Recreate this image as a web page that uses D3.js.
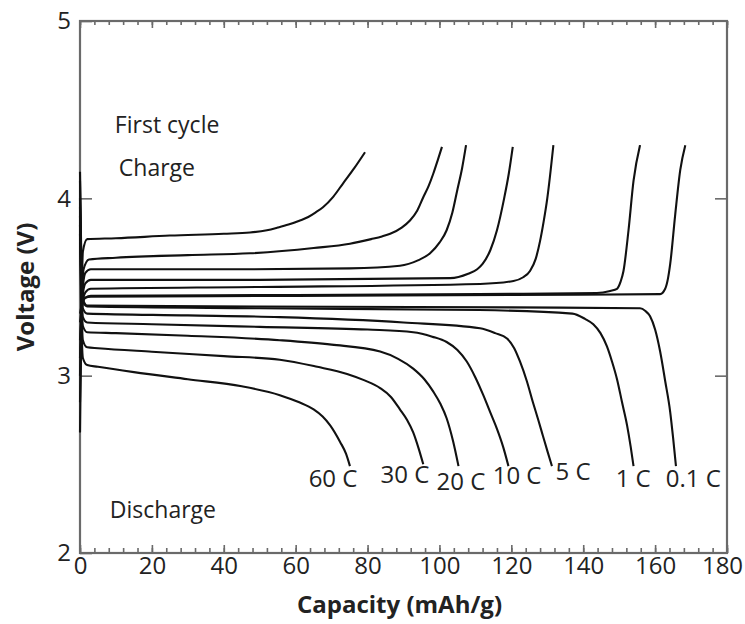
<!DOCTYPE html>
<html>
<head>
<meta charset="utf-8">
<script src="https://cdn.jsdelivr.net/npm/d3@7"></script>
<style>
  html, body { margin: 0; padding: 0; background: #fff; }
  svg text { font-family: "Open Sans", "Noto Sans", sans-serif; fill: #222; }
</style>
</head>
<body>
<svg id="chart" width="745" height="624"></svg>
<script>
// ---------- DATA ----------
const xTicksMajor = [0, 20, 40, 60, 80, 100, 120, 140, 160, 180];
const yTicksMajor = [2, 3, 4, 5];
const rates = ["60 C", "30 C", "20 C", "10 C", "5 C", "1 C", "0.1 C"];

// charge curves [capacity mAh/g, voltage V]
const charge60 = [[0,2.68],[0.3,3.2],[0.8,3.7],[2,3.77],[10,3.775],[25,3.79],[40,3.80],[47.3,3.807],[52,3.82],[55,3.835],[58,3.852],[61.2,3.875],[63.5,3.895],[65.5,3.92],[67.6,3.95],[70.5,4.01],[73.2,4.085],[76.3,4.17],[79.3,4.26]];
const charge30 = [[0,2.85],[0.4,3.3],[1,3.6],[2.5,3.655],[10,3.665],[30,3.68],[47.3,3.69],[65,3.72],[75.1,3.744],[81,3.77],[84,3.785],[86.3,3.80],[89.5,3.835],[91.8,3.875],[93.8,3.93],[95.5,4.006],[97,4.07],[98.3,4.14],[99.6,4.22],[100.7,4.29]];
const charge20 = [[0,3.0],[0.5,3.42],[1.5,3.58],[3,3.60],[47.3,3.60],[75,3.605],[89,3.62],[94,3.65],[97.4,3.69],[100,3.75],[102,3.82],[103.6,3.92],[105,4.05],[106.3,4.17],[107.4,4.30]];
const charge10 = [[0,3.1],[0.5,3.4],[1.5,3.52],[3,3.54],[50,3.54],[103,3.55],[108,3.575],[110.5,3.60],[112,3.63],[114.2,3.71],[116,3.82],[118,4.0],[119.3,4.14],[120.4,4.29]];
const charge5 = [[0,3.2],[0.5,3.38],[1.5,3.47],[3,3.49],[50,3.50],[111.3,3.517],[120.6,3.534],[123.3,3.555],[125.2,3.59],[126.8,3.66],[128,3.76],[129,3.87],[130,4.0],[131.7,4.30]];
const charge1 = [[0,3.30],[0.5,3.38],[1.5,3.44],[3,3.45],[60,3.455],[111,3.46],[143.8,3.466],[147.5,3.478],[149.4,3.49],[150.4,3.53],[151.2,3.59],[152.6,3.82],[154,4.1],[155.8,4.30]];
const charge01 = [[0,3.35],[0.5,3.40],[1.5,3.44],[3,3.445],[60,3.45],[120,3.455],[161.4,3.46],[162.8,3.49],[163.6,3.55],[164.2,3.63],[165.6,3.91],[167,4.16],[168.4,4.30]];

// discharge curves [capacity mAh/g, voltage V]
const discharge60 = [[0,3.80],[0.3,3.4],[0.8,3.1],[2,3.06],[5,3.05],[15,3.02],[30,2.98],[45,2.94],[55.6,2.89],[61,2.85],[65,2.81],[67.5,2.77],[69.6,2.72],[72.4,2.625],[74,2.56],[75.1,2.49]];
const discharge30 = [[0,3.85],[0.3,3.5],[0.8,3.2],[2,3.16],[5,3.155],[20,3.135],[40,3.11],[55.6,3.09],[66,3.05],[74.3,3.01],[79,2.975],[83.5,2.93],[86.5,2.88],[89,2.81],[91,2.75],[92.7,2.68],[94.2,2.59],[95.5,2.50]];
const discharge20 = [[0,3.9],[0.3,3.55],[0.8,3.28],[2,3.245],[10,3.24],[30,3.225],[55.6,3.20],[70,3.175],[83.5,3.136],[88.5,3.095],[92.7,3.04],[95.8,2.98],[98.3,2.91],[100.3,2.84],[102,2.76],[103.8,2.63],[105.3,2.49]];
const discharge10 = [[0,3.95],[0.3,3.6],[0.8,3.33],[2,3.30],[20,3.29],[50,3.275],[80,3.26],[92.7,3.245],[98,3.22],[102,3.19],[105,3.145],[107.6,3.08],[110,2.99],[112.2,2.89],[114.2,2.79],[116,2.70],[117.7,2.60],[119.2,2.49]];
const discharge5 = [[0,4.0],[0.3,3.65],[0.8,3.38],[2,3.35],[30,3.34],[55.6,3.33],[90,3.30],[111.3,3.267],[115.5,3.24],[118.8,3.21],[120.8,3.155],[122.4,3.08],[124.3,2.97],[126,2.85],[127.5,2.75],[128.8,2.66],[130.1,2.57],[131.3,2.49]];
const discharge1 = [[0,4.1],[0.3,3.7],[0.8,3.42],[2,3.39],[50,3.38],[111,3.37],[137,3.35],[140.5,3.32],[142.8,3.29],[144.8,3.24],[146.6,3.165],[148,3.08],[149.4,2.98],[150.8,2.85],[152.2,2.72],[153.2,2.60],[154,2.49]];
const discharge01 = [[0,4.15],[0.3,3.75],[0.8,3.43],[2,3.395],[50,3.39],[120,3.385],[155.8,3.38],[157.3,3.365],[158.6,3.335],[160,3.26],[161.4,3.136],[162.8,2.97],[164.2,2.795],[165,2.65],[165.8,2.49]];

// rate label anchor positions (capacity, voltage of baseline)
const rateLabelCap = [70.4, 90.4, 106, 121.6, 137.2, 153.9, 170.6];
const rateLabelV = [2.372, 2.394, 2.355, 2.388, 2.411, 2.372, 2.372];

// ---------- LAYOUT ----------
const svg = d3.select("#chart");
const mLeft = 80, mRight = 727, mTop = 21, mBottom = 553;
const x = d3.scaleLinear().domain([0, 180]).range([mLeft, mRight]);
const y = d3.scaleLinear().domain([2, 5]).range([mBottom, mTop]);
const axisColor = "#6a6a6a";

const minorX = d3.range(0, 181, 4);

function styleAxis(g) {
  g.select(".domain").remove();
  g.selectAll(".tick line").attr("stroke", axisColor).attr("stroke-width", 1.6);
  g.selectAll(".tick text").attr("font-size", 24).attr("fill", "#222")
    .style("font-family", "'Open Sans', sans-serif");
}

// bottom axis: minor ticks & major ticks (inward)
svg.append("g").attr("transform", `translate(0,${mBottom})`)
  .call(d3.axisBottom(x).tickValues(minorX).tickSize(-5).tickFormat(""))
  .call(styleAxis);
const bottomMajor = svg.append("g").attr("transform", `translate(0,${mBottom})`)
  .call(d3.axisBottom(x).tickValues(xTicksMajor).tickSize(-8).tickPadding(4).tickFormat(d3.format("d")))
  .call(styleAxis);
// keep the last label inside the picture
bottomMajor.selectAll(".tick text").filter(d => d === 180).attr("dx", -5);

// top axis
svg.append("g").attr("transform", `translate(0,${mTop})`)
  .call(d3.axisTop(x).tickValues(minorX).tickSize(-4).tickFormat(""))
  .call(styleAxis);
svg.append("g").attr("transform", `translate(0,${mTop})`)
  .call(d3.axisTop(x).tickValues(xTicksMajor).tickSize(-7).tickFormat(""))
  .call(styleAxis);

// left axis
svg.append("g").attr("transform", `translate(${mLeft},0)`)
  .call(d3.axisLeft(y).tickValues(yTicksMajor).tickSize(-12).tickPadding(9).tickFormat(d3.format("d")))
  .call(styleAxis);

// right axis
svg.append("g").attr("transform", `translate(${mRight},0)`)
  .call(d3.axisRight(y).tickValues([3, 4]).tickSize(-12).tickFormat(""))
  .call(styleAxis);

// frame
svg.append("rect")
  .attr("x", mLeft).attr("y", mTop)
  .attr("width", mRight - mLeft).attr("height", mBottom - mTop)
  .attr("fill", "none").attr("stroke", axisColor).attr("stroke-width", 2.2);

// curves
const line = d3.line().x(d => x(d[0])).y(d => y(d[1])).curve(d3.curveMonotoneX);
const allCurves = [charge60, charge30, charge20, charge10, charge5, charge1, charge01,
                   discharge60, discharge30, discharge20, discharge10, discharge5, discharge1, discharge01];
svg.append("g").selectAll("path").data(allCurves).join("path")
  .attr("d", line)
  .attr("fill", "none")
  .attr("stroke", "#111")
  .attr("stroke-width", 2.1)
  .attr("stroke-linejoin", "round");

// rate labels
svg.append("g").selectAll("text").data(rates).join("text")
  .attr("x", (d, i) => x(rateLabelCap[i]))
  .attr("y", (d, i) => y(rateLabelV[i]))
  .attr("text-anchor", "middle")
  .attr("font-size", 24)
  .text(d => d);

// annotations
svg.append("text").attr("x", x(9.7)).attr("y", y(4.37)).attr("font-size", 23).text("First cycle");
svg.append("text").attr("x", x(10.8)).attr("y", y(4.126)).attr("font-size", 23).text("Charge");
svg.append("text").attr("x", x(8.3)).attr("y", y(2.20)).attr("font-size", 23).text("Discharge");

// axis titles
svg.append("text").attr("x", (mLeft + mRight) / 2 - 4).attr("y", 613)
  .attr("text-anchor", "middle").attr("font-size", 24).attr("font-weight", "bold")
  .text("Capacity (mAh/g)");
svg.append("text")
  .attr("transform", `translate(34,${(mTop + mBottom) / 2}) rotate(-90)`)
  .attr("text-anchor", "middle").attr("font-size", 24).attr("font-weight", "bold")
  .text("Voltage (V)");
</script>
</body>
</html>
